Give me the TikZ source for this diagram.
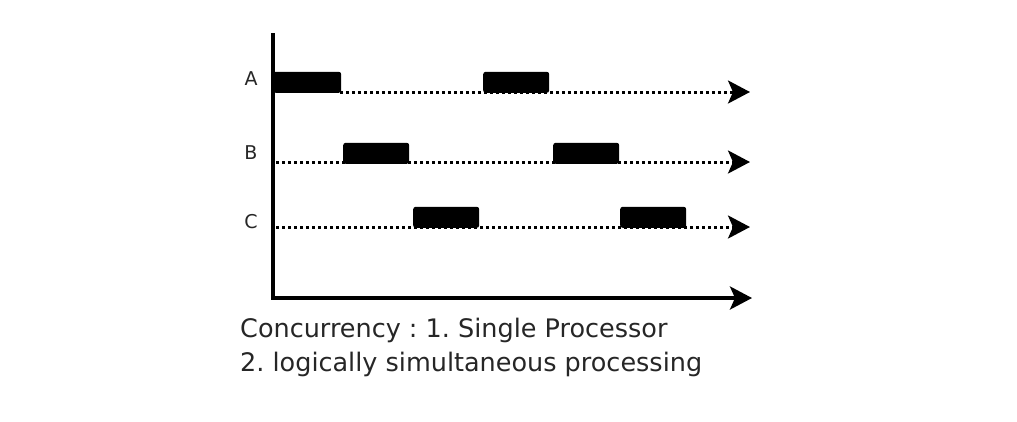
\documentclass[tikz,border=0pt]{standalone}
\usepackage{fontspec}
\setmainfont{DejaVu Sans}
\usetikzlibrary{arrows.meta}
\begin{document}
\frenchspacing
\begin{tikzpicture}[x=1pt,y=-1pt,
  axis/.style={line width=3.5pt,-{Stealth[length=22pt,width=23pt,inset=5pt]}},
  track/.style={line width=3pt,dash pattern=on 3pt off 3pt,-{Stealth[length=22pt,width=23pt,inset=5pt]}},
  slice/.style={rectangle,fill=black,rounded corners=2.5pt,minimum width=66pt,minimum height=21pt,inner sep=0pt,anchor=south west},
  lbl/.style={font=\fontsize{19}{22}\selectfont,inner sep=0pt,text=black!85},
  note/.style={font=\fontsize{25.5}{30}\selectfont,inner sep=0pt,anchor=base west,text=black!85}]
\useasboundingbox (0,0) rectangle (1017,421);
% axes, drawn as one path so the corner is mitred
\coordinate (origin) at (273,298);
\coordinate (ytop) at (273,33);
\coordinate (xend) at (752,298);
\draw[axis] (ytop) -- (origin) -- (xend);
% time slices of process A
\coordinate (a0) at (340,92);
\coordinate (a1) at (750,92);
\node[slice, minimum width=68pt] (sa1) at (273,93) {};
\node[slice] (sa2) at (483,93) {};
\draw[track] (a0) -- (a1);
% process B
\coordinate (b0) at (276,162);
\coordinate (b1) at (750,162);
\node[slice] (sb1) at (343,164) {};
\node[slice] (sb2) at (553,164) {};
\draw[track] (b0) -- (b1);
% process C
\coordinate (c0) at (276,227);
\coordinate (c1) at (750,227);
\node[slice] (sc1) at (413,228) {};
\node[slice] (sc2) at (620,228) {};
\draw[track] (c0) -- (c1);
% row labels
\node[lbl] (la) at (251,79) {A};
\node[lbl] (lb) at (251,153) {B};
\node[lbl] (lc) at (251,222) {C};
% caption
\node[note] (n1) at (240,337) {Concurrency : 1. Single Processor};
\node[note] (n2) at (240,371) {2. logically simultaneous processing};
\end{tikzpicture}
\end{document}
